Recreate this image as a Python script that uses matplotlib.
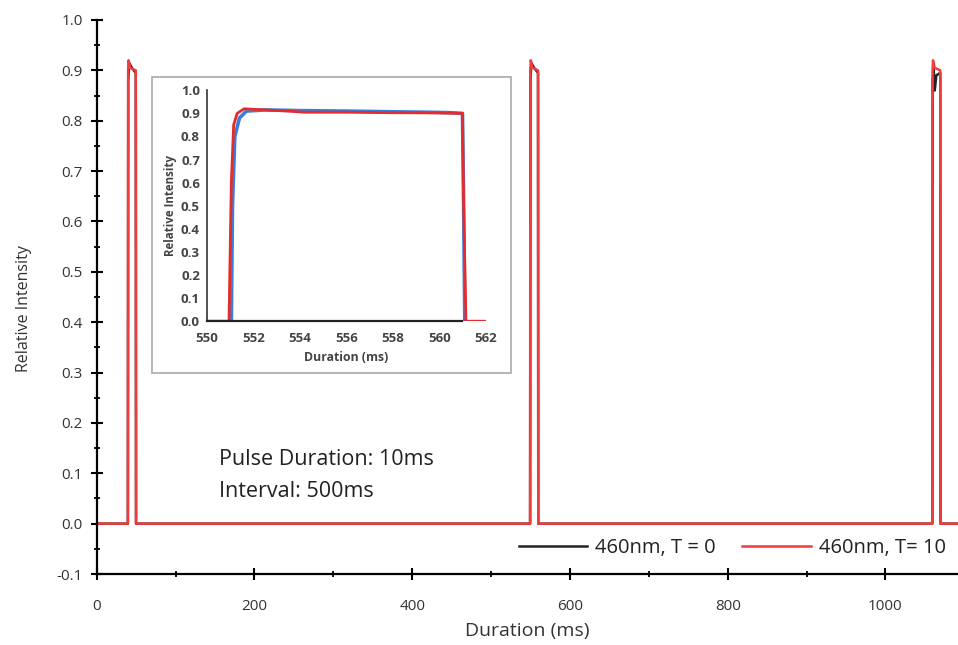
import matplotlib
matplotlib.use('Agg')
import matplotlib.pyplot as plt
from matplotlib.patches import Rectangle
from matplotlib.ticker import MultipleLocator, FormatStrFormatter

plt.rcParams['font.family'] = ['Open Sans', 'DejaVu Sans']

# main trace, three 10 ms pulses every 510 ms
t_red = [0, 39.4, 39.8, 40.3, 42.5, 49.5, 49.8, 549.4, 549.8, 550.3, 552.5, 559.5, 559.8,
         1059.4, 1059.8, 1060.3, 1062.5, 1069.5, 1069.8, 1092]
y_red = [0, 0, 0.90, 0.92, 0.905, 0.90, 0, 0, 0.90, 0.92, 0.905, 0.90, 0,
         0, 0.90, 0.92, 0.905, 0.90, 0, 0]
t_black = [0, 39.5, 39.9, 41.0, 44.5, 49.5, 49.8, 549.5, 549.9, 551.0, 554.5, 559.5, 559.8,
           1059.5, 1059.9, 1061.0, 1062.5, 1064.5, 1069.5, 1069.8, 1092]
y_black = [0, 0, 0.88, 0.915, 0.905, 0.895, 0, 0, 0.88, 0.915, 0.905, 0.895, 0,
           0, 0.88, 0.91, 0.86, 0.89, 0.895, 0, 0]

# inset zoom of the second pulse
ti_red = [550, 550.95, 551.05, 551.15, 551.3, 551.6, 552.5, 553.5, 554.2, 556, 558, 560,
          561.0, 561.05, 561.15, 562]
yi_red = [0, 0, 0.6, 0.85, 0.90, 0.92, 0.915, 0.91, 0.905, 0.905, 0.903, 0.902,
          0.90, 0.5, 0, 0]
ti_blue = [551.05, 551.1, 551.2, 551.4, 551.7, 552.5, 554, 556, 558, 559.5, 560.5,
           561.0, 561.05, 561.1]
yi_blue = [0, 0.5, 0.8, 0.88, 0.91, 0.915, 0.912, 0.91, 0.907, 0.905, 0.903,
           0.90, 0.5, 0]

labels = ['460nm, T = 0', '460nm, T= 10']

fig = plt.figure(figsize=(9.58, 6.45), dpi=100)
ax = fig.add_axes([0.101, 0.110, 0.899, 0.859])

ax.plot(t_black, y_black, color='#222222', lw=1.8, label=labels[0])
ax.plot(t_red, y_red, color='#f03c3c', lw=1.8, label=labels[1])

ax.set_xlim(0, 1092)
ax.set_ylim(-0.1, 1.0)
ax.xaxis.set_major_locator(MultipleLocator(200))
ax.xaxis.set_minor_locator(MultipleLocator(100))
ax.yaxis.set_major_locator(MultipleLocator(0.1))
ax.yaxis.set_minor_locator(MultipleLocator(0.05))
ax.yaxis.set_major_formatter(FormatStrFormatter('%.1f'))
for s in ['top', 'right']:
    ax.spines[s].set_visible(False)
for s in ['left', 'bottom']:
    ax.spines[s].set_linewidth(1.6)
ax.tick_params(which='major', direction='inout', length=8, width=1.5,
               labelsize=11, labelcolor='#333333', pad=6)
ax.tick_params(axis='x', which='major', pad=14)
ax.tick_params(which='minor', direction='inout', length=5, width=1.3)
ax.set_xlabel('Duration (ms)', fontsize=14, color='#333333', labelpad=6)
ax.set_ylabel('Relative Intensity', fontsize=11.5, color='#333333')
ax.yaxis.set_label_coords(-0.075, 0.48)

ax.legend(loc='center left', bbox_to_anchor=(0.49, 0.047), ncol=2, frameon=False,
          fontsize=14.5, handlelength=3.4, handletextpad=0.4, columnspacing=1.3,
          labelcolor='#222222', borderaxespad=0, borderpad=0)

fig.text(0.229, 0.222, 'Pulse Duration: 10ms\nInterval: 500ms', fontsize=15.5,
         color='#222222', linespacing=1.7, va='bottom')

# inset frame
fig.patches.append(Rectangle((0.159, 0.422), 0.374, 0.459, transform=fig.transFigure,
                             fill=False, edgecolor='#b0b0b0', lw=1.3))

axi = fig.add_axes([0.216, 0.502, 0.291, 0.358])
axi.plot(ti_blue, yi_blue, color='#3b7dd8', lw=2.6)
axi.plot(ti_red, yi_red, color='#e52b2b', lw=2.0)
axi.set_xlim(550, 562)
axi.set_ylim(0, 1.0)
axi.xaxis.set_major_locator(MultipleLocator(2))
axi.yaxis.set_major_locator(MultipleLocator(0.1))
axi.yaxis.set_major_formatter(FormatStrFormatter('%.1f'))
axi.spines['top'].set_visible(False)
axi.spines['right'].set_visible(False)
axi.spines['bottom'].set_bounds(550, 561)
axi.spines['left'].set_color('#333333')
axi.spines['bottom'].set_color('#222222')
axi.spines['left'].set_linewidth(1.2)
axi.spines['bottom'].set_linewidth(1.6)
axi.tick_params(length=0, labelsize=9.5, labelcolor='#444444', pad=5)
axi.tick_params(axis='x', pad=8)
for lbl in axi.get_xticklabels() + axi.get_yticklabels():
    lbl.set_fontweight('bold')
axi.set_xlabel('Duration (ms)', fontsize=8.8, fontweight='bold', color='#444444', labelpad=4)
axi.set_ylabel('Relative Intensity', fontsize=8.3, fontweight='bold', color='#444444', labelpad=3)

fig.savefig('out.png', dpi=100)
